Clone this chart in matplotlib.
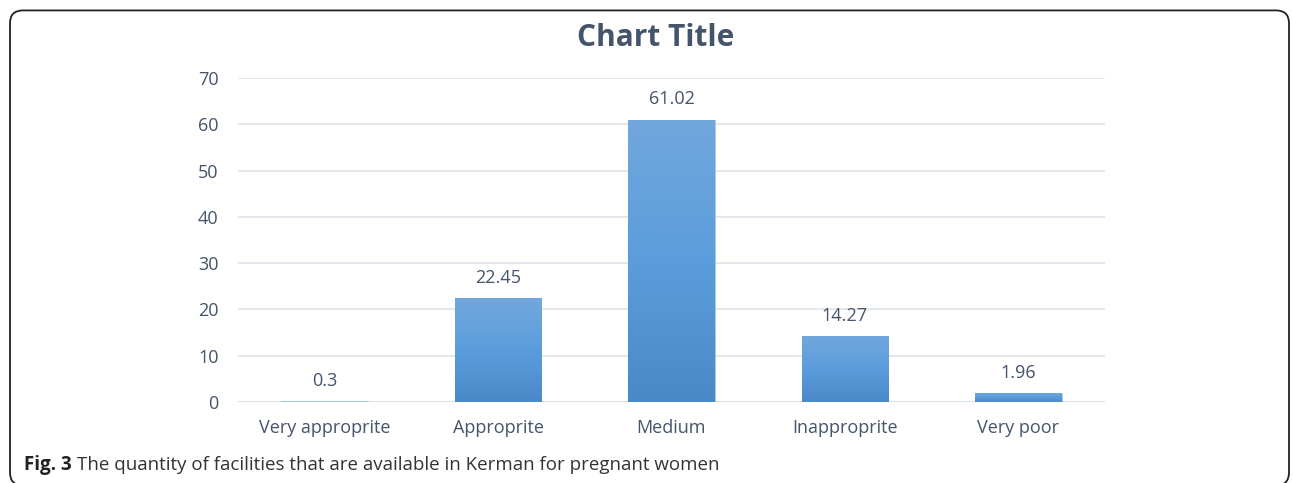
#!/usr/bin/env python3
"""Bar chart: quantity of facilities available in Kerman for pregnant women."""
import numpy as np
import matplotlib
matplotlib.use('Agg')
import matplotlib.pyplot as plt
from matplotlib.patches import FancyBboxPatch
from matplotlib.colors import LinearSegmentedColormap

# ── Data ──────────────────────────────────────────────
categories = ["Very approprite", "Approprite", "Medium", "Inapproprite", "Very poor"]
values = [0.3, 22.45, 61.02, 14.27, 1.96]
y_ticks = [0, 10, 20, 30, 40, 50, 60, 70]

TEXT = '#44546a'
GRID = '#dfe3e8'
plt.rcParams['font.family'] = ['Open Sans', 'DejaVu Sans']

W, H = 1293, 483
fig = plt.figure(figsize=(W / 100, H / 100), dpi=100)
ax = fig.add_axes([238 / W, 1 - 402 / H, (1105 - 238) / W, (402 - 78) / H])

x = np.arange(len(categories))
bars = ax.bar(x, values, width=0.5, color='#5b9bd5', edgecolor='#a9cbea',
              linewidth=0.5, zorder=2)

# vertical gradient fill clipped to each bar
cmap = LinearSegmentedColormap.from_list('bar', ['#4a89c8', '#5b9ddc', '#72a7dc'])
grad = np.linspace(0, 1, 256).reshape(-1, 1)
for b in bars:
    x0, w, h = b.get_x(), b.get_width(), b.get_height()
    if h < 1:
        continue  # too thin for a gradient, keep plain fill
    im = ax.imshow(grad, cmap=cmap, aspect='auto', origin='lower',
                   interpolation='nearest', extent=[x0, x0 + w, 0, h], zorder=2.5)
    im.set_clip_path(b)

for xi, v in zip(x, values):
    ax.annotate(f"{v:g}", (xi, v), xytext=(0, 8), textcoords='offset points',
                ha='center', va='bottom', fontsize=13, color=TEXT)

ax.set_xlim(-0.5, len(categories) - 0.5)
ax.set_ylim(0, 70)
ax.set_yticks(y_ticks)
ax.set_xticks(x)
ax.set_xticklabels(categories)
ax.tick_params(axis='both', length=0, labelsize=13, colors=TEXT)
ax.tick_params(axis='x', pad=12)
ax.tick_params(axis='y', pad=14)
ax.grid(axis='y', color=GRID, linewidth=1.2, zorder=0)
for s in ax.spines.values():
    s.set_visible(False)
ax.axhline(0, color='#d0d6de', linewidth=1.4, zorder=1)

fig.text(656 / W, 1 - 38 / H, "Chart Title", ha='center', va='center',
         fontsize=21.5, fontweight='bold', color=TEXT)

# caption: bold "Fig. 3" followed by regular text
t1 = fig.text(24 / W, 1 - 465 / H, "Fig. 3", ha='left', va='center',
              fontsize=13.5, fontweight='bold', color='#222222')
fig.canvas.draw()
bb = t1.get_window_extent()
fig.text((bb.x1 + 5) / W, 1 - 465 / H,
         "The quantity of facilities that are available in Kerman for pregnant women",
         ha='left', va='center', fontsize=13.5, color='#333333')

# rounded frame around the figure
frame = FancyBboxPatch((10 / W, -0.005), (1289 - 10) / W, (483 - 8) / H,
                       boxstyle="round,pad=0,rounding_size=0.01",
                       transform=fig.transFigure, fill=False,
                       edgecolor='#222222', linewidth=1.3, mutation_aspect=W / H)
fig.patches.append(frame)

fig.savefig('out.png', dpi=100)
